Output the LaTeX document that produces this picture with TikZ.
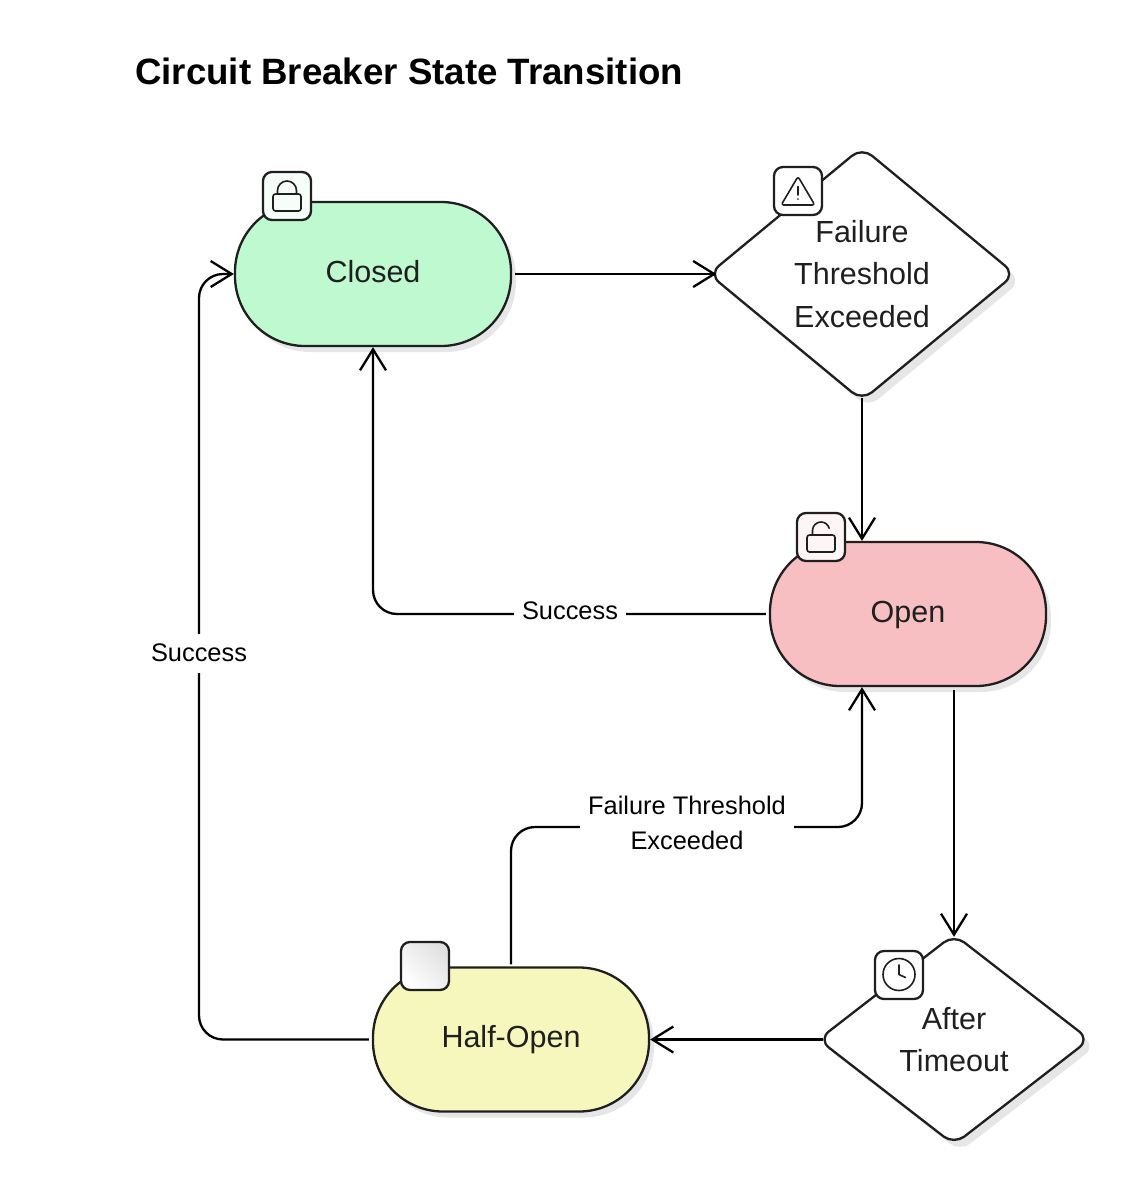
\documentclass[tikz,border=0pt]{standalone}
\usepackage{fontspec}
\setmainfont{Liberation Sans}
\usetikzlibrary{arrows.meta,shapes.geometric,shadows,calc}
\definecolor{ink}{HTML}{1F1F1F}
\definecolor{closedfill}{HTML}{BFF9D0}
\definecolor{openfill}{HTML}{F8BFC2}
\definecolor{halffill}{HTML}{F6F7BC}
\definecolor{shadowgray}{HTML}{E6E6E6}
\tikzset{
  state/.style = {rectangle,draw=ink,line width=2.3pt,minimum width=276pt,minimum height=144pt,
    rounded corners=70pt,inner sep=0pt,text=ink,text height=22pt,text depth=6pt,
    font=\fontsize{30.5}{42}\selectfont,align=center,
    drop shadow={shadow xshift=5pt,shadow yshift=-6pt,fill=shadowgray,opacity=1}},
  check/.style = {diamond,draw=ink,fill=white,line width=2.3pt,inner sep=0pt,text=ink,rounded corners=13pt,
    font=\fontsize{30.5}{42.5}\selectfont,align=center,
    drop shadow={shadow xshift=6pt,shadow yshift=-7pt,fill=shadowgray,opacity=1}},
  badge/.style = {rectangle,draw=ink,line width=2.3pt,minimum size=48pt,rounded corners=9pt,inner sep=0pt},
  icon/.style = {draw=ink,line width=1.6pt,line cap=round,line join=round},
  edge/.style = {draw=black,line width=2.3pt,rounded corners=24pt},
  flow/.style = {edge,-{Straight Barb[length=21pt,width=26pt,line width=2.3pt]}},
  elabel/.style = {fill=white,inner xsep=8pt,inner ysep=9pt,align=center,text=black,
    font=\fontsize{25.4}{35}\selectfont},
}
\begin{document}
\begin{tikzpicture}[x=1pt,y=-1pt]
  \useasboundingbox (0,0) rectangle (1142,1194);

  \node[anchor=west,font=\bfseries\fontsize{36.65}{40}\selectfont,inner sep=0pt] (title) at (135,71) {Circuit Breaker State Transition};

  % states
  \node[state,fill=closedfill] (closed) at (373,274) {Closed};
  \node[state,fill=openfill] (open) at (908,614) {Open};
  \node[state,fill=halffill] (half) at (511,1039.5) {Half-Open};

  % checks
  \node[check,aspect=1.21,minimum width=307pt,minimum height=254pt] (failure) at (862,274) {\raisebox{5pt}{\parbox{140pt}{\centering Failure\\Threshold\\Exceeded}}};
  \node[check,aspect=1.29,minimum width=272pt,minimum height=211pt] (after) at (954,1039.5) {\raisebox{5pt}{\parbox{115pt}{\centering After\\Timeout}}};

  % connectors
  \coordinate (leftrail) at (199,653);
  \coordinate (midrail) at (687,827);
  \path[flow,shorten <=3pt,shorten >=-9pt] (closed.east) -- (failure.west);
  \path[flow,shorten <=-4pt] (failure.south) -- (open.north -| failure.south);
  \path[flow,shorten <=3pt] (open.west) -| (closed.south);
  \path[flow,shorten <=3pt,shorten >=-4pt] (open.south -| after.north) -- (after.north);
  \path[flow,shorten <=-6pt] (after.west) -- (half.east);
  \path[flow,shorten <=3pt] (half.west) -| (leftrail) |- (closed.west);
  \path[flow,shorten <=2pt] (half.north) |- (midrail) -| (open.south -| failure.south);

  % edge labels
  \node[elabel] (lblclosed) at (570,611) {Success};
  \node[elabel,inner ysep=10.5pt] (lblrail) at (199,653) {Success};
  \node[elabel] (lblhalf) at (687,823) {Failure Threshold\\Exceeded};

  % badges
  \node[badge,fill=closedfill!15!white] (bclosed) at (287,196) {};
  \node[badge,fill=white] (bfailure) at (798,191) {};
  \node[badge,fill=openfill!15!white] (bopen) at (821,537) {};
  \node[badge,shading=axis,left color=black!12,right color=white,shading angle=-45] (bhalf) at (425,966) {};
  \node[badge,fill=white] (bafter) at (899,975) {};

  % lock
  \begin{scope}[shift={(bclosed.center)}]
    \draw[icon,rounded corners=2.5pt] (-14,-2) rectangle (14,15);
    \draw[icon] (-9.5,-2) -- (-9.5,-5.5) arc[start angle=180,end angle=360,radius=9.5] -- (9.5,-2);
  \end{scope}
  % open lock
  \begin{scope}[shift={(bopen.center)}]
    \draw[icon,rounded corners=2.5pt] (-14,-2) rectangle (14,15);
    \draw[icon] (-8.5,-2) -- (-8.5,-6.5) arc[start angle=180,end angle=345,radius=8.5];
  \end{scope}
  % warning triangle
  \begin{scope}[shift={(bfailure.center)}]
    \draw[icon,rounded corners=2.5pt] (0,-14.5) -- (16.8,14) -- (-16.8,14) -- cycle;
    \draw[icon] (0,-4.5) -- (0,4);
    \draw[icon] (0,8) -- (0,8.1);
  \end{scope}
  % clock
  \begin{scope}[shift={(bafter.center)}]
    \draw[icon] (0,-0.5) circle[radius=16];
    \draw[icon] (0,-10) -- (0,-0.5) -- (6.5,2.5);
  \end{scope}
\end{tikzpicture}
\end{document}
